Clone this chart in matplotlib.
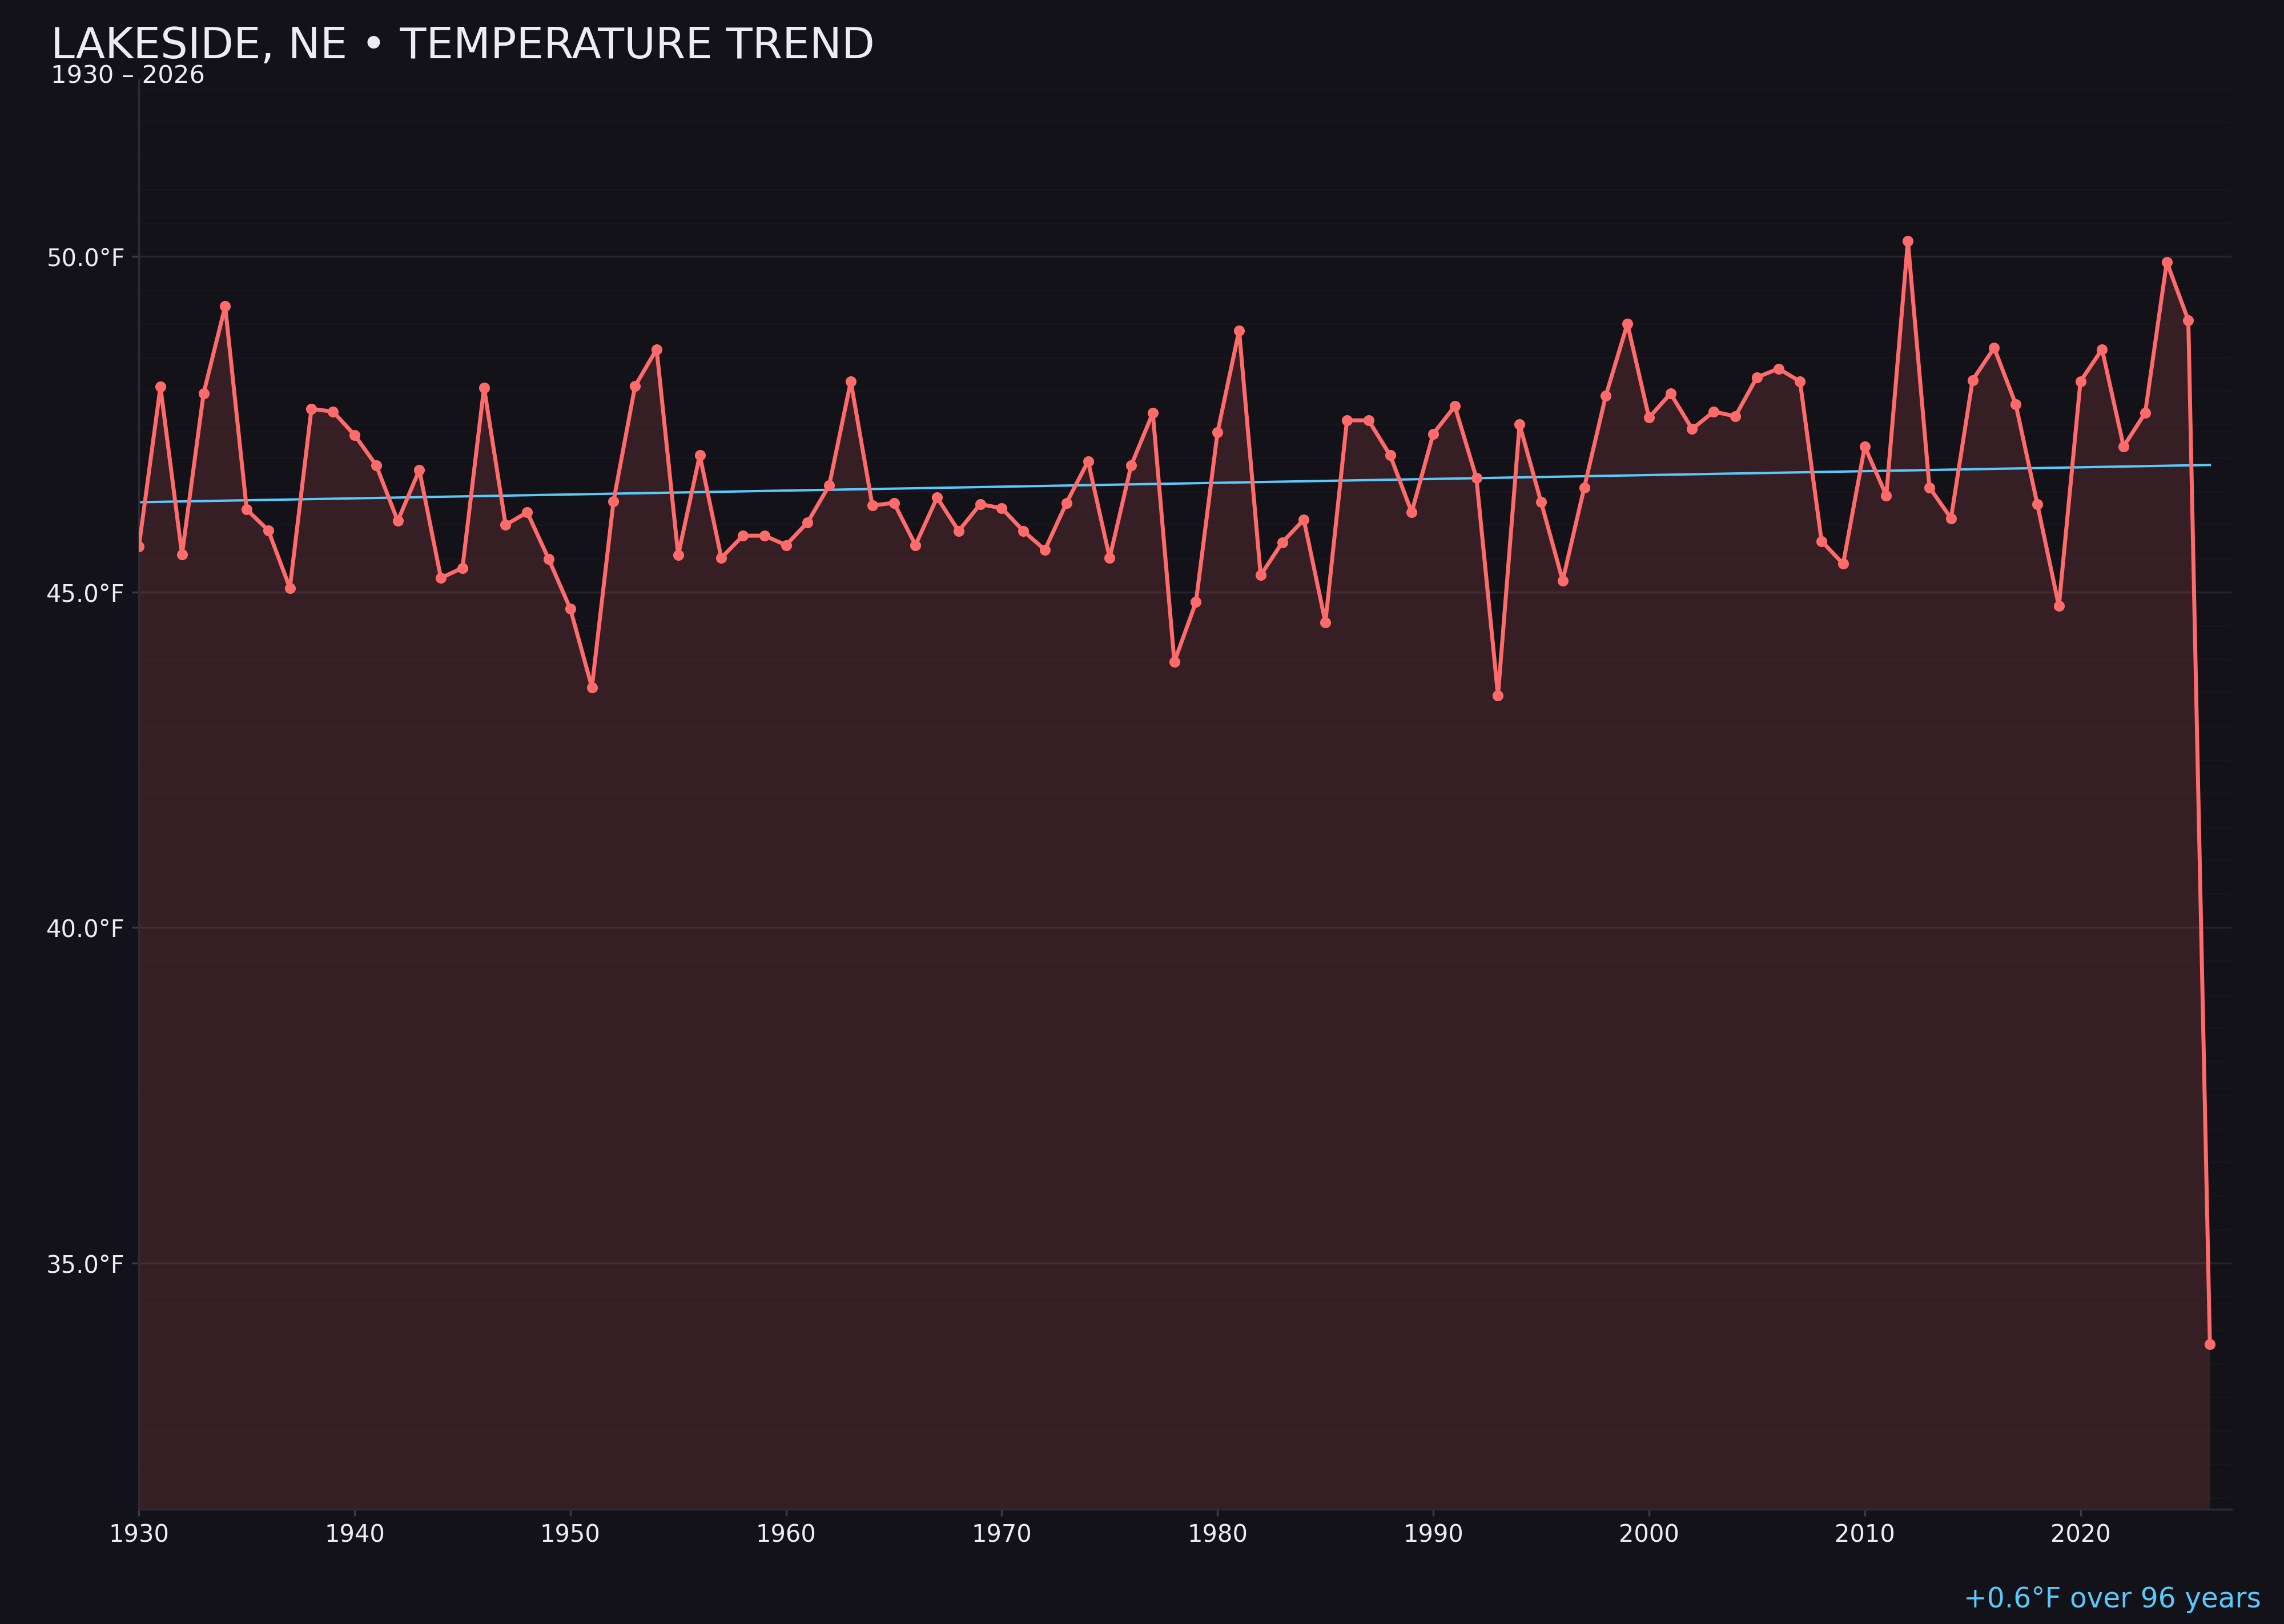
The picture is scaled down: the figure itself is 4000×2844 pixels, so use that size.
import matplotlib
matplotlib.use('Agg')
import matplotlib.pyplot as plt
import numpy as np
from matplotlib.ticker import MultipleLocator, FuncFormatter

# yearly mean temperature
years = list(range(1930, 2027))
temps = [
    45.68, 48.06, 45.56, 47.96, 49.26, 46.23, 45.92, 45.06, 47.73, 47.69,  # 1930s
    47.34, 46.89, 46.06, 46.82, 45.21, 45.36, 48.05, 46.00, 46.19, 45.49,  # 1940s
    44.75, 43.58, 46.35, 48.07, 48.62, 45.55, 47.04, 45.51, 45.84, 45.84,  # 1950s
    45.70, 46.04, 46.59, 48.14, 46.29, 46.33, 45.70, 46.41, 45.91, 46.31,  # 1960s
    46.25, 45.91, 45.63, 46.33, 46.95, 45.51, 46.89, 47.67, 43.96, 44.85,  # 1970s
    47.38, 48.90, 45.25, 45.74, 46.08, 44.55, 47.56, 47.56, 47.04, 46.19,  # 1980s
    47.36, 47.77, 46.70, 43.46, 47.50, 46.34, 45.17, 46.56, 47.93, 49.00,  # 1990s
    47.60, 47.96, 47.43, 47.69, 47.62, 48.20, 48.33, 48.14, 45.76, 45.42,  # 2000s
    47.17, 46.44, 50.23, 46.56, 46.10, 48.16, 48.64, 47.80, 46.31, 44.79,  # 2010s
    48.14, 48.62, 47.17, 47.67, 49.92, 49.05, 33.79,                       # 2020s
]
title = 'LAKESIDE, NE • TEMPERATURE TREND'
subtitle = '1930 – 2026'
trend_note = '+0.6°F over 96 years'

BG = '#121218'
RED = '#ff6b6b'
BLUE = '#5ac8fa'
TXT = '#ececf2'

x = np.array(years)
y = np.array(temps)

fig = plt.figure(figsize=(16, 11.376), dpi=250, facecolor=BG)
ax = fig.add_axes([0.0608, 0.0705, 0.9162, 0.8803])
ax.set_facecolor(BG)

pad = (y.max() - y.min()) * 0.15
ymin = y.min() - pad
ymax = y.max() + pad * 0.975

# grid
ax.yaxis.set_major_locator(MultipleLocator(5))
ax.yaxis.set_minor_locator(MultipleLocator(0.5))
ax.grid(True, which='major', axis='y', color='#24242b', lw=1.0, zorder=0)
ax.grid(True, which='minor', axis='y', color='#16161c', lw=0.8, zorder=0)
ax.set_axisbelow(True)

ax.fill_between(x, y, ymin, color=RED, alpha=0.15, lw=0, zorder=1)
ax.plot(x, y, color=RED, lw=2, marker='o', ms=4.5, zorder=3)

# linear trend
k, b = np.polyfit(x, y, 1)
ax.plot(x, k * x + b, color=BLUE, lw=1.2, zorder=2)

ax.set_xlim(1930, 2027)
ax.set_ylim(ymin, ymax)
ax.xaxis.set_major_locator(MultipleLocator(10))
ax.yaxis.set_major_formatter(FuncFormatter(lambda v, p: f'{v:.1f}°F'))

for s in ['top', 'right']:
    ax.spines[s].set_visible(False)
for s in ['left', 'bottom']:
    ax.spines[s].set_color('#2c2c36')
    ax.spines[s].set_linewidth(1)

ax.tick_params(axis='both', which='major', colors='#3a3a44', labelcolor=TXT,
               labelsize=12, length=3.5, width=1)
ax.tick_params(axis='y', which='minor', length=0)

fig.text(0.0223, 0.964, title, color=TXT, fontsize=21.7, ha='left', va='baseline')
fig.text(0.0223, 0.949, subtitle, color=TXT, fontsize=12.5, ha='left', va='baseline')
fig.text(0.99, 0.0102, trend_note, color=BLUE, fontsize=14, ha='right', va='baseline')

fig.savefig('out.png', dpi=250, facecolor=BG)
